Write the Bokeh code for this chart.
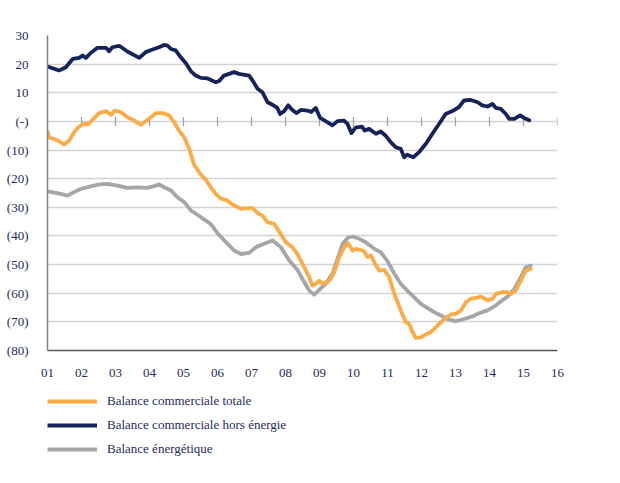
from bokeh.plotting import figure
from bokeh.layouts import column
from bokeh.models import Range1d, FixedTicker, Legend, LegendItem
from bokeh.embed import file_html
from bokeh.resources import INLINE

# ---- data (decimal years, billions) ----
t_hors = [2001.0, 2001.34, 2001.54, 2001.74, 2001.93, 2002.03, 2002.13, 2002.27, 2002.47, 2002.72, 2002.81, 2002.91,
          2003.11, 2003.35, 2003.70, 2003.89, 2004.09, 2004.28, 2004.43, 2004.53, 2004.63, 2004.77, 2004.92, 2005.07,
          2005.22, 2005.36, 2005.51, 2005.71, 2005.95, 2006.05, 2006.19, 2006.49, 2006.63, 2006.93, 2007.03, 2007.18,
          2007.32, 2007.47, 2007.62, 2007.76, 2007.84, 2007.96, 2008.08, 2008.20, 2008.33, 2008.45, 2008.65, 2008.76,
          2008.89, 2009.02, 2009.18, 2009.38, 2009.53, 2009.72, 2009.82, 2009.94, 2010.06, 2010.25, 2010.33, 2010.46,
          2010.66, 2010.80, 2010.94, 2011.10, 2011.24, 2011.39, 2011.49, 2011.58, 2011.76, 2011.93, 2012.13, 2012.32,
          2012.52, 2012.71, 2012.91, 2013.10, 2013.25, 2013.45, 2013.65, 2013.79, 2013.94, 2014.09, 2014.19, 2014.33,
          2014.48, 2014.58, 2014.73, 2014.90, 2015.02, 2015.17]
v_hors = [19.2, 17.8, 18.9, 21.8, 22.2, 23.0, 22.2, 23.9, 25.7, 25.7, 24.5, 25.9,
          26.4, 24.4, 22.2, 24.2, 25.1, 25.9, 26.7, 26.5, 25.3, 24.8, 22.4, 20.3,
          17.5, 16.0, 15.2, 15.0, 13.7, 14.1, 16.0, 17.2, 16.6, 16.0, 14.3, 11.4,
          10.2, 6.7, 5.8, 4.7, 2.6, 3.6, 5.6, 4.0, 2.9, 4.0, 3.8, 3.3,
          4.7, 1.2, 0.1, -1.4, 0.1, 0.3, -0.8, -4.1, -2.2, -1.8, -3.2, -2.6,
          -4.3, -3.5, -4.9, -7.3, -9.0, -9.6, -12.5, -11.6, -12.5, -10.7, -7.8, -4.3,
          -0.8, 2.6, 3.6, 5.0, 7.3, 7.5, 6.7, 5.6, 5.2, 6.1, 4.7, 4.4,
          2.6, 0.9, 0.9, 2.1, 1.2, 0.4]

t_tot = [2001.0, 2001.05, 2001.20, 2001.34, 2001.49, 2001.64, 2001.78, 2001.93, 2002.08, 2002.18, 2002.32, 2002.52,
         2002.72, 2002.86, 2002.98, 2003.16, 2003.35, 2003.55, 2003.75, 2003.94, 2004.19, 2004.38, 2004.58, 2004.73,
         2004.87, 2005.02, 2005.17, 2005.31, 2005.49, 2005.66, 2005.80, 2005.95, 2006.10, 2006.25, 2006.44, 2006.69,
         2007.03, 2007.18, 2007.32, 2007.47, 2007.67, 2007.86, 2008.01, 2008.20, 2008.35, 2008.55, 2008.70, 2008.79,
         2008.89, 2008.99, 2009.09, 2009.24, 2009.33, 2009.43, 2009.58, 2009.73, 2009.84, 2009.97, 2010.06, 2010.22,
         2010.31, 2010.41, 2010.51, 2010.66, 2010.76, 2010.90, 2011.05, 2011.20, 2011.39, 2011.54, 2011.64, 2011.74,
         2011.83, 2011.98, 2012.13, 2012.27, 2012.42, 2012.57, 2012.71, 2012.86, 2013.01, 2013.16, 2013.31, 2013.45,
         2013.60, 2013.75, 2013.94, 2014.09, 2014.19, 2014.38, 2014.53, 2014.63, 2014.77, 2014.92, 2015.07, 2015.21]
v_tot = [-3.4, -5.7, -6.1, -6.9, -8.1, -6.7, -3.8, -1.8, -0.8, -1.1, 0.5, 2.9,
         3.6, 2.3, 3.8, 3.2, 1.5, 0.3, -1.2, 0.5, 2.9, 2.9, 2.1, -0.3,
         -3.2, -5.5, -9.6, -15.1, -18.3, -20.4, -23.0, -25.3, -27.0, -27.4, -29.0, -30.5,
         -30.2, -32.0, -32.9, -35.2, -35.8, -39.3, -42.2, -43.9, -46.3, -50.9, -54.4, -57.3,
         -56.7, -55.6, -56.7, -56.1, -55.0, -52.7, -47.4, -43.9, -42.5, -45.1, -44.5, -44.9,
         -45.3, -47.4, -46.8, -50.3, -52.1, -51.8, -54.4, -60.2, -66.0, -70.1, -70.7, -73.6,
         -75.6, -75.4, -74.4, -73.6, -71.9, -70.1, -68.7, -67.4, -67.2, -66.0, -63.1, -61.9,
         -61.6, -61.2, -62.5, -61.9, -60.2, -59.6, -59.6, -60.2, -59.1, -55.6, -52.1, -51.5]

t_ener = [2001.0, 2001.20, 2001.39, 2001.59, 2001.78, 2001.98, 2002.27, 2002.52, 2002.76, 2003.06, 2003.35, 2003.65,
          2003.94, 2004.14, 2004.28, 2004.43, 2004.63, 2004.82, 2005.02, 2005.22, 2005.41, 2005.61, 2005.80, 2006.00,
          2006.25, 2006.49, 2006.69, 2006.93, 2007.13, 2007.32, 2007.62, 2007.86, 2008.11, 2008.35, 2008.55, 2008.70,
          2008.84, 2008.99, 2009.18, 2009.38, 2009.53, 2009.68, 2009.82, 2009.97, 2010.17, 2010.36, 2010.61, 2010.80,
          2010.99, 2011.20, 2011.39, 2011.58, 2011.78, 2011.98, 2012.17, 2012.37, 2012.57, 2012.76, 2013.01, 2013.25,
          2013.50, 2013.69, 2013.94, 2014.14, 2014.33, 2014.53, 2014.73, 2014.92, 2015.07, 2015.21]
v_ener = [-24.4, -24.9, -25.3, -25.9, -24.7, -23.6, -22.7, -22.0, -21.8, -22.4, -23.2, -23.0,
          -23.2, -22.6, -22.0, -23.0, -24.1, -26.5, -28.2, -31.1, -32.6, -34.3, -35.8, -39.0,
          -42.2, -45.1, -46.3, -45.9, -43.9, -43.0, -41.6, -43.9, -48.6, -51.8, -56.1, -59.1,
          -60.5, -58.8, -56.7, -53.2, -48.0, -42.8, -40.7, -40.2, -41.0, -42.2, -44.5, -45.7,
          -48.6, -53.2, -56.7, -59.1, -61.4, -63.7, -65.1, -66.6, -67.8, -69.0, -69.8, -69.0,
          -68.1, -67.0, -66.0, -64.6, -62.9, -61.2, -58.5, -54.4, -50.9, -50.3]

x_ticks = list(range(2001, 2017))
x_labels = ["01", "02", "03", "04", "05", "06", "07", "08", "09", "10", "11", "12", "13", "14", "15", "16"]
y_ticks = [30, 20, 10, 0, -10, -20, -30, -40, -50, -60, -70, -80]
y_labels = ["30", "20", "10", "(-)", "(10)", "(20)", "(30)", "(40)", "(50)", "(60)", "(70)", "(80)"]
zero_ticks = list(range(2002, 2017))
zero_vals = [0] * len(zero_ticks)

names = ["Balance commerciale totale", "Balance commerciale hors énergie", "Balance énergétique"]

ORANGE = "#FBAC46"
NAVY = "#16235A"
GRAY = "#A6A6A8"
TXT = "#1F2A5C"
FONT = "Liberation Serif"
LW = 3.8

p = figure(width=620, height=383, output_backend="svg", toolbar_location=None,
           x_range=Range1d(2001, 2016), y_range=Range1d(-80, 30),
           min_border_left=47, min_border_right=63, min_border_top=35, min_border_bottom=33)
p.outline_line_color = None
p.background_fill_color = "white"
p.border_fill_color = "white"

p.xgrid.grid_line_color = None
p.ygrid.grid_line_color = "#D4D4D4"
p.ygrid.grid_line_width = 1.5
p.ygrid.ticker = FixedTicker(ticks=y_ticks)

p.xaxis.ticker = FixedTicker(ticks=x_ticks)
p.xaxis.major_label_overrides = {t: l for t, l in zip(x_ticks, x_labels)}
p.xaxis.major_tick_line_color = None
p.xaxis.minor_tick_line_color = None
p.xaxis.axis_line_color = "#595959"
p.xaxis.axis_line_width = 1.5
p.xaxis.major_label_standoff = 12
p.xaxis.major_label_text_font = FONT
p.xaxis.major_label_text_font_size = "13px"
p.xaxis.major_label_text_color = TXT

p.yaxis.ticker = FixedTicker(ticks=y_ticks)
p.yaxis.major_label_overrides = {t: l for t, l in zip(y_ticks, y_labels)}
p.yaxis.major_tick_line_color = None
p.yaxis.minor_tick_line_color = None
p.yaxis.axis_line_color = "#808080"
p.yaxis.axis_line_width = 1.5
p.yaxis.major_label_standoff = 13
p.yaxis.major_label_text_font = FONT
p.yaxis.major_label_text_font_size = "13px"
p.yaxis.major_label_text_color = TXT

# tick marks on the zero line
p.scatter(zero_ticks, zero_vals, marker="dash", angle=1.5708, size=9,
          line_color="#A0A0A0", line_width=1.2)

p.line(t_ener, v_ener, line_color=GRAY, line_width=LW, line_join="round", line_cap="round")
p.line(t_tot, v_tot, line_color=ORANGE, line_width=LW, line_join="round", line_cap="round")
p.line(t_hors, v_hors, line_color=NAVY, line_width=LW, line_join="round", line_cap="round")

# legend panel below the chart (series drawn off-range: only the legend keys show)
lg = figure(width=620, height=100, output_backend="svg", toolbar_location=None,
            x_range=Range1d(0, 1), y_range=Range1d(0, 1),
            min_border_left=0, min_border_right=0, min_border_top=0, min_border_bottom=0)
lg.outline_line_color = None
lg.axis.visible = False
lg.grid.visible = False
lg.border_fill_color = "white"
k_tot = lg.line(t_tot, v_tot, line_color=ORANGE, line_width=LW)
k_hors = lg.line(t_hors, v_hors, line_color=NAVY, line_width=LW)
k_ener = lg.line(t_ener, v_ener, line_color=GRAY, line_width=LW)

legend = Legend(items=[LegendItem(label=names[0], renderers=[k_tot]),
                       LegendItem(label=names[1], renderers=[k_hors]),
                       LegendItem(label=names[2], renderers=[k_ener])],
                location=(0, 24), orientation="vertical",
                glyph_width=50, glyph_height=20, label_height=20, spacing=4,
                label_standoff=10, padding=0, margin=0,
                border_line_color=None, background_fill_alpha=0,
                label_text_font=FONT, label_text_font_size="13px", label_text_color=TXT)
lg.add_layout(legend)

layout = column(p, lg, spacing=0)
open("out.html", "w").write(file_html(layout, INLINE))
